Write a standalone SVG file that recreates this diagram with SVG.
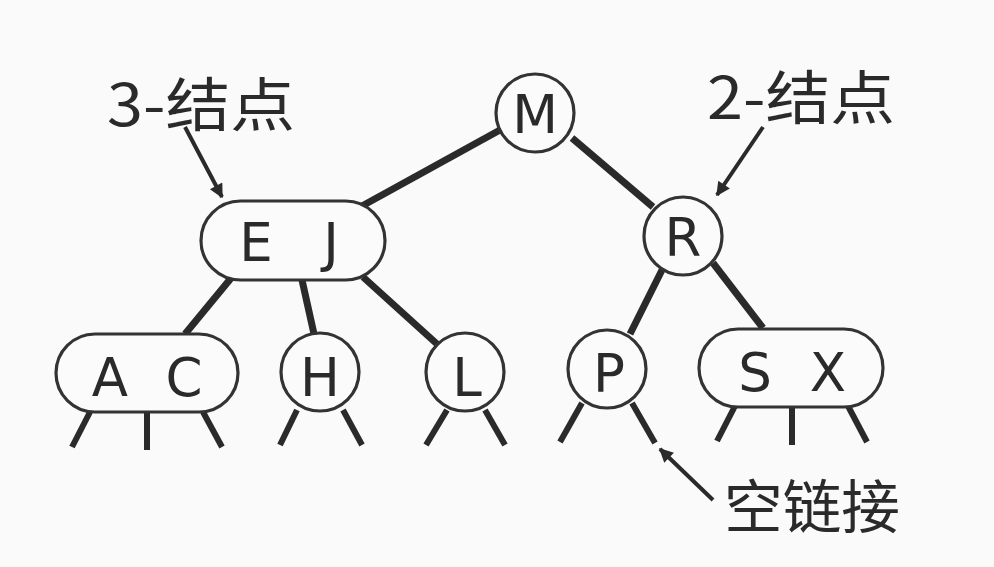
<svg xmlns="http://www.w3.org/2000/svg" width="994" height="567" viewBox="0 0 994 567">
<defs>
<style>
.node{fill:#fbfbfb;stroke:#333;stroke-width:3.2}
.key{font-family:"DejaVu Sans","Liberation Sans",sans-serif;font-size:53px;fill:#2a2a2a;text-anchor:middle}
.lbl{font-family:"Noto Sans CJK SC","DejaVu Sans",sans-serif;font-size:58px;fill:#2a2a2a}
.edge{stroke:#2a2a2a;stroke-width:7;stroke-linecap:butt;fill:none}
.nul{stroke:#2a2a2a;stroke-width:6;fill:none}
.ptr{stroke:#2a2a2a;stroke-width:4;fill:none;marker-end:url(#ah)}
</style>
<marker id="ah" viewBox="0 0 10 10" refX="9" refY="5" markerWidth="7" markerHeight="3.5" orient="auto" markerUnits="strokeWidth">
<path d="M0,0 L10,5 L0,10 z" fill="#2a2a2a"/>
</marker>
</defs>
<rect width="994" height="567" fill="#fafafa"/>
<g id="connectors">
<line class="edge" x1="500" y1="130" x2="362" y2="206"/>
<line class="edge" x1="572" y1="138" x2="653" y2="207"/>
<line class="edge" x1="232" y1="277" x2="185" y2="334"/>
<line class="edge" x1="302" y1="280" x2="314" y2="334"/>
<line class="edge" x1="363" y1="277" x2="437" y2="344"/>
<line class="edge" x1="662" y1="270" x2="630" y2="334"/>
<line class="edge" x1="713" y1="263" x2="763" y2="328"/>
<line class="nul" x1="90" y1="412" x2="72" y2="447"/>
<line class="nul" x1="147" y1="412" x2="147" y2="450"/>
<line class="nul" x1="203" y1="412" x2="222" y2="447"/>
<line class="nul" x1="297" y1="410" x2="280" y2="445"/>
<line class="nul" x1="343" y1="410" x2="362" y2="445"/>
<line class="nul" x1="447" y1="410" x2="426" y2="445"/>
<line class="nul" x1="485" y1="410" x2="505" y2="445"/>
<line class="nul" x1="582" y1="403" x2="560" y2="442"/>
<line class="nul" x1="632" y1="403" x2="655" y2="443"/>
<line class="nul" x1="735" y1="406" x2="717" y2="441"/>
<line class="nul" x1="792" y1="406" x2="792" y2="445"/>
<line class="nul" x1="848" y1="406" x2="867" y2="442"/>
<line class="ptr" x1="185" y1="127" x2="222" y2="197"/>
<line class="ptr" x1="763" y1="127" x2="717" y2="195"/>
<line class="ptr" x1="713" y1="500" x2="660" y2="449"/>
</g>
<g id="node-M"><circle class="node" cx="535" cy="113" r="39"/><text class="key" x="535" y="133">M</text></g>
<g id="node-EJ"><rect class="node" x="201" y="201" width="184" height="79" rx="39.5"/><text class="key" x="256" y="261">E</text><text class="key" x="331" y="261">J</text></g>
<g id="node-R"><circle class="node" cx="683" cy="236" r="39"/><text class="key" x="683" y="256">R</text></g>
<g id="node-AC"><rect class="node" x="56" y="334" width="182" height="78" rx="39"/><text class="key" x="110" y="396">A</text><text class="key" x="184" y="396">C</text></g>
<g id="node-H"><circle class="node" cx="320" cy="372" r="39"/><text class="key" x="320" y="396">H</text></g>
<g id="node-L"><circle class="node" cx="465" cy="372" r="39"/><text class="key" x="467" y="396">L</text></g>
<g id="node-P"><circle class="node" cx="607" cy="369" r="39"/><text class="key" x="609" y="392">P</text></g>
<g id="node-SX"><rect class="node" x="699" y="329" width="184" height="78" rx="39"/><text class="key" x="755" y="391">S</text><text class="key" x="828" y="391">X</text></g>
<g id="labels">
<text class="lbl" x="107" y="126" textLength="188" lengthAdjust="spacingAndGlyphs">3-结点</text>
<text class="lbl" x="707" y="119" textLength="188" lengthAdjust="spacingAndGlyphs">2-结点</text>
<text class="lbl" x="724" y="528" textLength="176" lengthAdjust="spacingAndGlyphs">空链接</text>
</g>
</svg>
